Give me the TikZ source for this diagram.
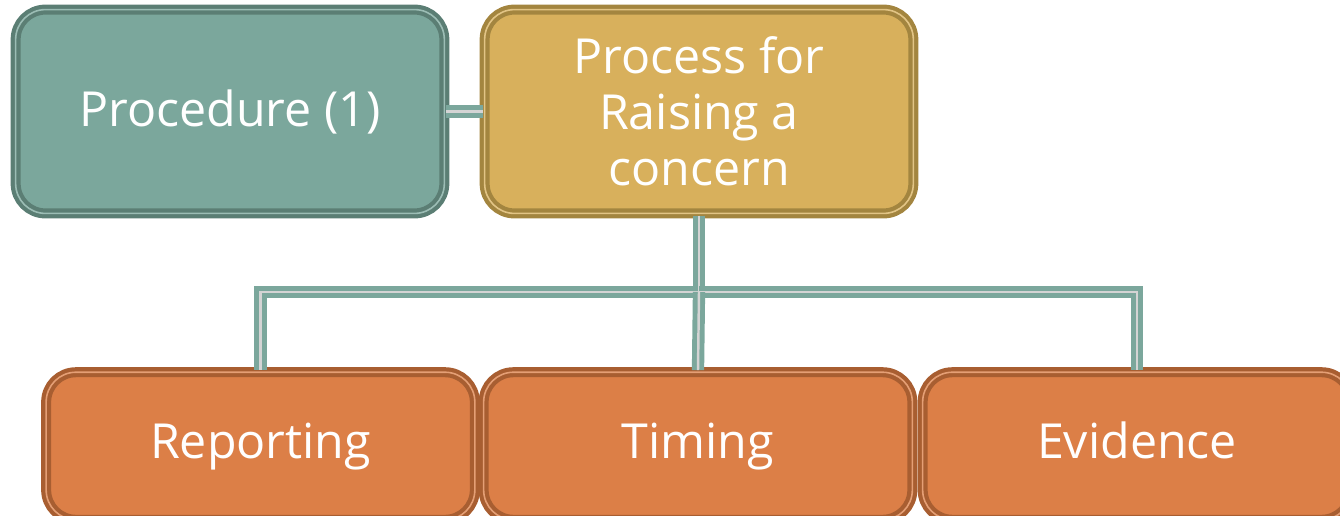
\documentclass[tikz,border=0pt]{standalone}
\usepackage{fontspec}
\setmainfont{Open Sans}
\usetikzlibrary{positioning}

\definecolor{tealfill}{HTML}{7BA79C}
\definecolor{tealline}{HTML}{5B7E74}
\definecolor{goldfill}{HTML}{D8B05C}
\definecolor{goldline}{HTML}{A3853F}
\definecolor{orangefill}{HTML}{DC7F47}
\definecolor{orangeline}{HTML}{A85E31}
\definecolor{gapgrey}{HTML}{D4D4D4}

\tikzset{
	card/.style={rounded corners=17pt, minimum width=244pt, line width=2.4pt,
		double distance=0.9pt, text=white, align=center,
		font=\fontsize{27.5}{32}\selectfont},
	tealcard/.style={card, fill=tealfill, draw=tealline, double=tealfill!75!white, minimum height=116pt},
	goldcard/.style={card, fill=goldfill, draw=goldline, double=goldfill!75!white, minimum height=116pt},
	orangecard/.style={card, fill=orangefill, draw=orangeline, double=orangefill!75!white,
		minimum height=84pt, text height=20pt, text depth=6pt},
	conn/.style={draw=tealfill, line width=2.8pt, double=gapgrey, double distance=1.4pt}
}

\begin{document}
\begin{tikzpicture}[x=0.02cm, y=-0.02cm]
	\useasboundingbox (0,0) rectangle (1340,515);
	\clip (0,0) rectangle (1340,515);
	% top row
	\node [tealcard] (proc) at (230,111.5) {Procedure (1)};
	\node [goldcard] (raise) at (699,111.5) {Process for\\Raising a\\concern};
	% bottom row
	\node [orangecard] (report) at (260.5,446) {Reporting};
	\node [orangecard] (timing) at (698,446) {Timing};
	\node [orangecard] (evid) at (1137,446) {Evidence};
	% connectors
	\coordinate (fork) at (699,292);
	\draw [conn] (proc.east) -- (raise.west);
	\draw [conn] (raise.south) -- (fork) -| (report.north);
	\draw [conn] (fork) -| (evid.north);
	\draw [conn] (fork) -- (timing.north);
\end{tikzpicture}
\end{document}
